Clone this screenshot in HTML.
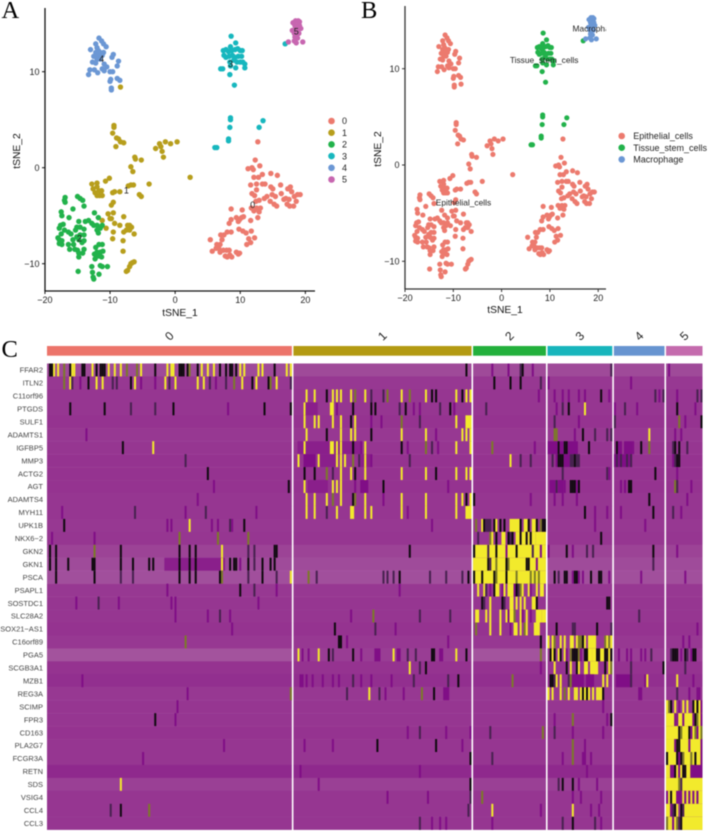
<!DOCTYPE html>
<html lang="en">
<head>
<meta charset="utf-8">
<title>tSNE clusters and marker gene heatmap</title>
<style>
html,body{margin:0;padding:0;background:#fff;}
#figure{display:block;width:708px;height:831px;filter:blur(.5px);font-family:"Liberation Sans",sans-serif;}
</style>
</head>
<body>
<svg id="figure" xmlns="http://www.w3.org/2000/svg" width="708" height="831" viewBox="0 0 708 831">
  <defs><clipPath id="clip-b"><rect x="405" y="0" width="201" height="290"/></clipPath></defs>
  <g id="panel-a"></g>
  <g id="panel-b"></g>
  <g id="panel-c"></g>
</svg>
<script>
// ---------- tSNE data (tSNE_1, tSNE_2) ----------
const cluster0 = [[5.4,-7.5],[5.7,-8.7],[6.4,-8],[6.7,-8.4],[6.9,-8.8],[6.3,-8.4],[7.4,-8.6],[7.7,-9.2],[8,-9.3],[8.4,-9.1],[8.7,-9.3],[7.9,-8.6],[8.3,-8.6],[9.4,-8.8],[9.7,-9],[9.9,-8.9],[7,-7],[7.5,-7],[7.2,-7.5],[6.9,-8],[8,-6.7],[8.6,-6.7],[8.3,-5.8],[8.6,-5.4],[8.6,-4.3],[9.4,-5.2],[9.7,-5.6],[9.9,-5.4],[10.2,-5.2],[10.3,-4.4],[10.5,-5.1],[9.8,-6.4],[10.4,-6.6],[10.9,-6.8],[11.3,-7.4],[11.7,-6.6],[11.6,-7.8],[12.2,-7.3],[11,-8],[11.6,-5.5],[12.7,-5.2],[11.7,-4.2],[12.1,-4.5],[12.5,-4.2],[12.9,-4.6],[13.1,-4.2],[12.4,-3.5],[12.9,-3.4],[13.7,-3.2],[14.1,-3],[14.6,-3.5],[14.9,-2.8],[15.2,-3.8],[15.6,-4],[15.4,-3],[16.3,-2.7],[16.7,-3.3],[17,-3.2],[17.2,-3.8],[17.5,-3.3],[17.6,-4],[18.2,-4],[18.6,-3.5],[18.3,-3],[18.8,-2.8],[19.2,-2.8],[17.9,-2.5],[17.3,-2.2],[17.7,-2],[16.2,-1.8],[15,-2.2],[14.7,-2],[13.8,-1.7],[13.4,-1.7],[12.5,-1.7],[11.6,-1.8],[11.8,-2.7],[12.2,-2.9],[12.5,-2.3],[12.1,-1],[12.8,-1],[11.2,-0.1],[11.8,0],[12,-0.2],[12.3,0.8],[13,0.2],[13.4,-0.7],[14.7,-0.6],[15.7,-0.8],[12.7,2.7]];
const cluster1 = [[-8.4,8.4],[-9.4,4.4],[-9.4,4.2],[-9.6,3.6],[-9,3.1],[-8.7,3],[-8.4,2.7],[-7.9,2.6],[-9.1,2.2],[-3,2],[-2.4,2.5],[-2.2,2.2],[-1.8,1.1],[-1.5,2.7],[-0.7,2.5],[0.3,2.7],[-2,1.7],[-6.2,1.1],[-6.1,0.9],[-5.2,0.8],[-6.8,0.1],[-6.5,-0.4],[2.3,-1],[-4,-1.7],[-10.1,-1.1],[-10.7,-1.4],[-12.8,-1.7],[-12,-1.6],[-12.6,-2.2],[-12,-2],[-11.7,-2.4],[-11.3,-2.4],[-12.3,-2.6],[-11.6,-2.9],[-11.2,-2.9],[-12,-2.9],[-9.6,-2.6],[-9.3,-2.5],[-8.5,-2.5],[-7.2,-1.9],[-6.8,-1.8],[-6.4,-1.8],[-5.5,-2.8],[-5.2,-3],[-9.5,-3.6],[-9.8,-3.9],[-10.3,-4.8],[-9.5,-4.7],[-9.8,-5.3],[-10,-5.3],[-7.9,-5.1],[-11.2,-5.5],[-10.6,-6.3],[-9.3,-5.8],[-8.5,-6],[-7.3,-6],[-7,-6],[-6.7,-6.2],[-7.5,-6.5],[-7.9,-6.7],[-9.5,-6.7],[-7,-6.5],[-6.3,-6.9],[-9.6,-7.4],[-8,-7.6],[-8,-8.7],[-6.3,-9.8],[-6.6,-9.9],[-6.8,-10],[-7,-10.3],[-7.3,-10.7],[-7.5,-10.8]];
const cluster2 = [[-16.9,-3.1],[-17,-3.4],[-16.9,-3.6],[-15,-3],[-14.6,-3.2],[-14.2,-3.4],[-15.7,-4.3],[-14,-4],[-17.5,-4.6],[-17.4,-5],[-16.3,-5.2],[-12.4,-4.7],[-11.8,-5.2],[-14.8,-5.6],[-13.8,-5.6],[-13.3,-5.5],[-12.8,-5.8],[-12.5,-6],[-12,-6],[-11.2,-6],[-11.5,-6.3],[-12,-6.5],[-11.8,-6.8],[-17.6,-6],[-17.8,-6.3],[-17.2,-5.9],[-17,-6.5],[-16.4,-6.7],[-16,-6.9],[-15.3,-6.5],[-15.1,-6.2],[-14.6,-6.2],[-14,-6.4],[-15.7,-7.5],[-17.5,-6.9],[-17.8,-7.5],[-18,-7.3],[-17.4,-7.6],[-17.8,-7.9],[-17.4,-8],[-16.4,-8],[-16.2,-8.5],[-15.6,-8],[-15.4,-8.5],[-15,-8.6],[-14.8,-8.9],[-14.8,-9.3],[-14,-8.5],[-14.2,-8.9],[-14.6,-7],[-14,-7],[-14,-7.6],[-14.8,-7.5],[-15.1,-7.2],[-14.3,-7.8],[-12.2,-8.3],[-11.7,-8],[-11.2,-8],[-11.1,-8.7],[-11.5,-8.8],[-12,-8.8],[-12.4,-9],[-11.8,-9.2],[-11.3,-9.3],[-12.3,-9.5],[-12.8,-10.3],[-11.5,-10.2],[-11.2,-10.3],[-10.4,-10.3],[-14.9,-10.8],[-12.7,-10.9],[-12.6,-11.4],[-11.7,-11.1],[-12.5,-11.6]];
const cluster3 = [[8.6,13.7],[9.3,13],[8.5,12.6],[7.4,12.2],[7.8,12.3],[8.2,12.1],[8.7,12.2],[9.2,12.3],[9.6,12.4],[10,12.2],[10.3,12.2],[7.5,11.7],[7.8,11.5],[8.3,11.6],[8.8,11.7],[9.2,11.5],[9.7,11.6],[10.2,11.6],[9,11.2],[8.4,11],[9.5,11],[10,11],[10.4,11],[10.7,10.8],[8.5,10.6],[9.3,10.4],[10.7,10.4],[7,10.3],[7.3,10.3],[8.4,9.7],[9.1,8.6],[8.5,5.2],[8.5,5],[8.4,4.2],[8.2,3],[8.2,2.8],[6.1,2.1],[6.4,2.1],[12.9,4.2],[13.5,4.9],[16.9,12.9]];
const cluster4 = [[-11.7,13.5],[-11.3,13.2],[-12.2,12.9],[-11,12.9],[-10.6,12.6],[-12,12.5],[-13,12.3],[-12.2,12],[-11.8,12.2],[-11.5,12],[-11,12],[-12,11.7],[-11.6,11.7],[-11.2,11.7],[-12.5,11.6],[-12,11.3],[-11.5,11.3],[-9.5,11.8],[-9.7,11.5],[-8.7,11.1],[-8.9,10.6],[-12.7,11],[-12.2,10.9],[-10.9,10.8],[-10.5,10.5],[-11.2,10.3],[-12.4,10.2],[-13.1,10.2],[-11.9,9.9],[-10.9,10.1],[-10,10],[-9.6,10],[-13.3,9.7],[-9.9,9.2],[-10,9],[-8.9,9.3],[-8.5,9.1],[-9.8,8.3],[-9.8,8.1]];
const cluster5 = [[18.1,15.1],[18.5,15.3],[18.9,15.3],[19.1,15.2],[18.4,14.8],[18.8,14.8],[19.1,14.8],[18,14.3],[18.4,14.4],[18.8,14.4],[19.3,14.5],[18.3,14],[18.7,14],[19,14],[18.4,13.6],[18.8,13.5],[18.3,13.2],[18.6,13],[17.4,13.1],[19.6,13.1]];
const clusterNames = ["0","1","2","3","4","5"];
const clusterLabelSpots = [[11.9,-3.9],[-7.5,-2.4],[-14.7,-7.4],[8.5,10.8],[-11.3,11.3],[18.6,14.2]];
const cellTypeNames = ["Epithelial_cells","Tissue_stem_cells","Macrophage"];
const cellTypeOfCluster = [0,0,0,1,0,2];
const cellTypeLabelSpots = [[-7.9,-3.9],[8.8,10.9],[19.5,14.2]];
const tsne1Ticks = [-20,-10,0,10,20];
const tsne2Ticks = [-10,0,10];

// ---------- heatmap data ----------
const genes = ["FFAR2","ITLN2","C11orf96","PTGDS","SULF1","ADAMTS1","IGFBP5","MMP3","ACTG2","AGT","ADAMTS4","MYH11","UPK1B","NKX6\u22122","GKN2","GKN1","PSCA","PSAPL1","SOSTDC1","SLC28A2","SOX21\u2212AS1","C16orf89","PGA5","SCGB3A1","MZB1","REG3A","SCIMP","FPR3","CD163","PLA2G7","FCGR3A","RETN","SDS","VSIG4","CCL4","CCL3"];
const geneBaseline = [-.84,-.62,-.6,-.6,-.58,-.62,-.6,-.58,-.58,-.58,-.6,-.6,-.62,-.6,-.75,-.85,-.9,-.62,-.6,-.6,-.58,-.62,-.95,-.58,-.55,-.62,-.6,-.6,-.58,-.6,-.6,-.5,-.72,-.6,-.6,-.6];
const groupSizes = [121,88,36,32,25,18];
// expression levels: yellow high, olive mid, black zero, dark / deep purple low
const Y=1, O=.5, K=0, D=-.1, P=-.3, M=-.43;
// each entry: [cell index within group, scaled expression, optional run length]
const group0Cells = {
 "FFAR2":[[1,K],[2,K],[3,Y],[5,Y],[8,O],[11,K],[12,Y],[13,Y],[17,K],[18,K],[22,Y],[24,K],[26,K],[27,K],[28,K],[30,Y],[33,Y],[36,Y],[39,O],[44,O],[46,Y],[53,K],[59,Y],[61,Y],[62,Y],[65,K],[66,K],[67,K],[69,K],[70,O],[74,K],[76,Y],[79,Y],[82,Y],[85,K],[88,K],[90,K],[91,K],[93,K],[95,Y],[97,Y],[104,Y],[106,Y],[112,K],[118,Y],[120,Y]],
 "ITLN2":[[8,O],[11,Y],[12,D],[16,P],[20,K],[24,Y],[27,Y],[32,D],[34,D],[41,K],[43,Y],[46,P],[53,P],[58,Y],[60,D],[63,Y],[74,Y],[77,Y],[80,D],[83,P],[88,D],[92,O],[96,Y],[101,K],[103,Y],[109,K],[110,O],[113,Y],[120,D]],
 "PTGDS":[[11,K],[28,K],[41,D],[53,D],[62,K],[89,P],[107,K],[120,K]],
 "ADAMTS1":[[19,P]],
 "IGFBP5":[[37,K],[52,Y]],
 "MMP3":[[68,D]],
 "ACTG2":[[79,K]],
 "AGT":[[82,P],[119,K]],
 "ADAMTS4":[[74,P]],
 "MYH11":[[7,P],[43,D],[68,P],[78,D],[103,P]],
 "UPK1B":[[8,K],[59,P],[61,P],[70,Y],[81,P],[84,P],[90,D],[91,P],[97,K]],
 "NKX6\u22122":[[2,P],[23,P],[65,O],[84,O],[99,O]],
 "GKN2":[[1,K],[4,K],[23,O],[36,K],[65,K],[70,K],[73,K],[86,Y],[99,D],[102,D],[112,K],[113,K]],
 "GKN1":[[58,M,30],[1,K],[4,K],[10,K],[22,K],[23,K],[36,K],[42,K],[50,K],[52,K],[65,K],[70,K],[73,K],[86,Y],[90,K],[92,K],[93,K],[95,P],[99,K],[102,D],[106,K],[110,K],[112,K]],
 "PSCA":[[4,K],[23,K],[36,D],[42,D],[65,K],[70,K],[73,K],[85,K],[86,O],[99,D],[106,K],[113,D],[120,Y]],
 "PSAPL1":[[59,P],[95,K],[102,D],[113,P]],
 "SOSTDC1":[[14,P],[25,D],[35,P],[61,P],[63,P],[104,P]],
 "SLC28A2":[[63,P],[79,P],[85,D],[90,P]],
 "SOX21\u2212AS1":[[91,P]],
 "C16orf89":[[68,O]],
 "MZB1":[[17,P]],
 "REG3A":[[69,P],[120,O]],
 "SCIMP":[[64,P]],
 "FPR3":[[53,K],[63,P]],
 "PLA2G7":[[87,P]],
 "FCGR3A":[[47,P]],
 "SDS":[[36,Y]],
 "CCL4":[[31,D],[36,K],[50,O]]
};
const group1Cells = {
 "FFAR2":[[85,K]],
 "C11orf96":[[6,Y],[10,Y],[16,K],[19,Y],[21,Y],[23,Y],[28,Y],[30,O],[35,Y],[38,D],[44,D],[46,O],[53,Y],[57,O],[65,Y],[68,K],[70,K],[80,Y],[83,K],[85,Y],[87,Y]],
 "PTGDS":[[5,Y],[6,M,6],[18,Y,2],[21,P],[29,K],[38,K],[40,K],[52,D],[55,K],[59,P],[62,P],[72,D],[77,K],[79,P]],
 "SULF1":[[5,Y],[10,Y],[12,Y],[19,Y],[23,Y],[28,K],[30,Y],[38,P],[43,P],[53,O],[62,D],[80,Y],[85,Y,2],[87,Y]],
 "ADAMTS1":[[6,Y],[16,K],[23,Y],[28,Y],[30,Y],[38,K],[53,Y],[65,Y],[70,P],[83,Y],[85,Y],[87,Y]],
 "IGFBP5":[[2,M,32],[5,Y],[18,Y,2],[21,Y],[23,Y],[29,K],[33,P],[35,Y],[53,K],[56,P],[65,O],[68,D],[71,P],[80,Y],[87,Y]],
 "MMP3":[[2,Y],[5,P,6],[12,Y],[13,M,8],[21,Y],[23,Y],[25,Y],[29,O],[32,D],[33,M,5],[35,Y],[38,P],[57,D]],
 "ACTG2":[[5,K],[10,K],[16,O],[19,D],[23,Y],[28,Y],[30,K],[35,Y],[53,Y],[65,Y],[70,K],[80,Y],[85,Y],[87,Y]],
 "AGT":[[5,Y],[7,M,10],[19,Y],[21,Y],[23,Y],[30,P],[33,P,4],[44,K],[76,P]],
 "ADAMTS4":[[6,Y],[10,Y],[16,Y],[19,O],[23,Y],[29,K],[30,O],[35,Y],[44,P],[53,Y],[65,Y],[80,Y],[83,Y],[85,K],[87,Y]],
 "MYH11":[[6,Y],[10,Y],[16,D],[21,Y],[28,Y,2],[35,Y],[38,Y],[53,Y],[56,P],[65,Y],[80,Y],[85,Y,2],[87,Y]],
 "UPK1B":[[68,P]],
 "GKN2":[[57,K]],
 "PSCA":[[7,O],[11,D],[44,D],[46,D],[49,D],[52,K],[67,D],[75,D],[83,D],[86,K]],
 "PSAPL1":[[52,P]],
 "SLC28A2":[[28,P],[39,O],[62,D],[77,D]],
 "SOX21\u2212AS1":[[20,K],[40,D],[50,P]],
 "C16orf89":[[22,K],[23,K],[26,P],[76,P]],
 "PGA5":[[0,-.68,88],[2,Y],[4,P],[7,P],[12,Y],[17,K],[19,D],[29,K],[33,P],[40,P,3],[49,Y],[51,P,2],[56,D],[60,D],[68,K],[69,K],[72,P,2],[80,Y],[85,K]],
 "SCGB3A1":[[57,Y],[62,D],[65,K]],
 "MZB1":[[3,P,2],[6,P],[9,P],[14,P],[19,P],[22,P],[29,D],[33,P],[38,P],[48,P],[59,D],[76,D],[81,K]],
 "REG3A":[[26,D],[37,Y],[42,D],[45,P],[54,P],[63,O],[69,K],[74,P,3]],
 "CD163":[[56,P],[62,D],[75,P],[87,P]],
 "PLA2G7":[[5,P],[19,P],[41,K],[70,K],[83,P]],
 "FCGR3A":[[87,K]],
 "RETN":[[3,P],[62,P]],
 "SDS":[[12,P],[87,K]],
 "VSIG4":[[46,P],[66,P],[87,D]],
 "CCL4":[[86,D]],
 "CCL3":[[62,D],[68,P],[72,P],[75,P]]
};
const group2Cells = {
 "FFAR2":[[9,P],[17,P],[23,D],[24,K],[29,P]],
 "ITLN2":[[10,K],[18,K],[23,K],[33,D]],
 "C11orf96":[[32,P]],
 "PTGDS":[[6,D]],
 "IGFBP5":[[9,O],[30,P]],
 "MMP3":[[18,Y],[23,D],[28,D]],
 "ADAMTS4":[[0,K],[28,P]],
 "UPK1B":[[1,O],[4,Y],[5,K],[6,D,3],[10,K],[11,Y],[13,K],[15,K],[18,Y,5],[23,K],[25,Y,2],[27,K],[29,Y,2],[31,K],[33,O],[34,K],[35,K]],
 "NKX6\u22122":[[2,D],[8,O],[9,Y],[11,K],[14,Y,2],[17,K],[18,D],[19,K],[21,Y,2],[23,K],[24,Y,2],[26,K],[27,Y],[28,K],[29,Y,2],[31,Y,5]],
 "GKN2":[[1,Y,35],[0,K],[7,D],[11,K],[16,P],[21,K],[29,D],[33,P]],
 "GKN1":[[0,Y,36],[7,K],[8,D],[11,O],[16,K],[17,O],[26,K],[27,K],[31,P]],
 "PSCA":[[0,Y,36],[0,K],[4,K],[10,K],[11,O],[16,K],[21,O],[28,O],[30,O],[32,O]],
 "PSAPL1":[[2,Y],[5,Y],[6,D],[8,P],[10,K],[11,Y,2],[14,P],[15,Y],[17,Y,3],[20,P],[21,K],[22,D],[23,O],[24,Y],[27,Y],[28,P],[31,Y],[33,Y,2]],
 "SOSTDC1":[[4,K],[5,D],[8,Y],[14,K],[15,D],[18,Y,2],[21,Y],[23,Y],[25,Y],[29,Y,2],[31,K]],
 "SLC28A2":[[1,Y,2],[6,Y],[8,Y],[13,Y],[16,Y],[17,P],[18,Y,2],[20,O],[23,Y],[24,P],[26,Y],[28,P],[31,Y,3],[34,Y,2]],
 "SOX21\u2212AS1":[[1,O],[8,Y],[13,Y],[18,P],[20,Y,2],[23,Y],[25,O],[26,Y],[30,Y,3]],
 "C16orf89":[[33,K]],
 "PGA5":[[33,O]],
 "SCGB3A1":[[33,P]],
 "MZB1":[[19,O]],
 "CD163":[[8,D],[34,O]],
 "FCGR3A":[[9,D]],
 "VSIG4":[[4,O]],
 "CCL4":[[9,Y],[33,P]],
 "CCL3":[[9,P]]
};
const group3Cells = {
 "FFAR2":[[31,D]],
 "ITLN2":[[0,P]],
 "C11orf96":[[3,P],[7,P],[10,P],[15,P],[18,P],[26,K],[30,P]],
 "PTGDS":[[4,P],[7,D],[10,K],[18,Y]],
 "SULF1":[[3,D],[15,P]],
 "ADAMTS1":[[3,O],[4,O],[13,P],[17,K],[23,D],[29,D],[31,D]],
 "IGFBP5":[[0,P,5],[5,K],[6,P,2],[8,K],[9,K],[10,P,5],[20,K]],
 "MMP3":[[2,D],[4,P],[5,K],[6,K],[7,K],[8,P,3],[11,D,2],[13,K],[14,D,2]],
 "ACTG2":[[7,D],[29,D],[30,P]],
 "AGT":[[1,P,3],[4,D],[5,P,3],[8,P],[11,K],[12,K],[13,K],[14,P],[15,K]],
 "ADAMTS4":[[3,P],[7,P],[14,P]],
 "MYH11":[[18,K],[23,P],[29,P]],
 "UPK1B":[[23,P]],
 "NKX6\u22122":[[26,K]],
 "GKN2":[[0,P],[9,K],[12,P],[19,D],[22,D]],
 "PSCA":[[3,K],[5,D],[8,K],[9,K],[12,P],[13,K],[14,K],[15,P],[17,P],[21,K],[25,K],[26,K],[30,P]],
 "SOSTDC1":[[29,K],[30,K]],
 "SOX21\u2212AS1":[[4,K],[12,D],[13,D],[24,K],[31,D]],
 "C16orf89":[[0,Y],[2,Y],[3,O],[6,Y],[8,Y],[11,Y,2],[14,Y],[15,O,2],[17,K],[18,Y],[20,Y,4],[28,O],[29,Y],[30,O],[31,Y]],
 "PGA5":[[0,-.7,32],[1,K],[2,Y],[3,K],[5,Y],[6,K],[8,Y],[9,P],[11,O],[12,K],[13,K],[14,K],[15,O],[16,P],[18,K],[19,K],[20,Y,2],[22,Y,2],[24,K],[25,K],[26,Y,2],[28,K],[29,K],[30,Y],[31,K]],
 "SCGB3A1":[[3,Y],[9,K],[11,Y],[14,K],[15,Y],[18,Y,2],[21,Y,4],[28,K],[30,Y],[31,O]],
 "MZB1":[[1,K],[2,K],[3,D],[4,Y],[6,Y],[10,D],[11,O],[12,P,4],[16,P],[17,P],[19,P,4],[27,Y],[29,Y]],
 "REG3A":[[0,Y],[2,Y],[6,Y],[8,O],[10,Y],[13,Y],[14,Y],[16,Y],[17,K],[18,Y],[19,K],[20,Y],[22,Y],[24,Y],[25,Y],[26,Y],[27,K]],
 "SCIMP":[[27,P]],
 "FPR3":[[3,P],[12,O],[29,P],[31,K]],
 "CD163":[[3,D],[12,P],[27,P]],
 "PLA2G7":[[12,O],[18,P]],
 "FCGR3A":[[7,P],[12,O],[17,P],[18,P],[21,P]],
 "RETN":[[19,P]],
 "SDS":[[5,D],[7,K],[12,K],[15,P],[24,P]],
 "VSIG4":[[12,P],[16,P],[26,P]],
 "CCL4":[[12,Y],[21,P],[25,P]],
 "CCL3":[[7,D],[12,K],[23,D],[26,P]]
};
const group4Cells = {
 "ITLN2":[[8,P]],
 "C11orf96":[[20,D],[22,P],[24,D]],
 "PTGDS":[[0,P],[5,D],[11,P]],
 "SULF1":[[0,D]],
 "ADAMTS1":[[17,Y]],
 "IGFBP5":[[1,K],[2,P,2],[5,P,4],[9,P],[13,K],[17,O]],
 "MMP3":[[0,P,9],[1,D],[3,D],[6,D],[8,D]],
 "ACTG2":[[20,K]],
 "AGT":[[3,P],[5,P],[7,K],[8,K]],
 "ADAMTS4":[[17,K]],
 "MYH11":[[3,P],[19,K]],
 "UPK1B":[[15,P]],
 "GKN2":[[19,K]],
 "GKN1":[[19,D]],
 "PSCA":[[13,P]],
 "SLC28A2":[[12,D]],
 "PGA5":[[0,-.7,25],[2,P],[6,P],[8,P],[13,P],[15,P],[18,D]],
 "SCGB3A1":[[8,D],[24,K]],
 "MZB1":[[1,P,8],[8,D],[15,P],[16,Y]],
 "REG3A":[[12,P,2]]
};
const group5Cells = {
 "FFAR2":[[1,P]],
 "C11orf96":[[5,P],[15,D],[17,D]],
 "PTGDS":[[5,K],[14,P]],
 "SULF1":[[6,O],[9,P],[17,K]],
 "ADAMTS1":[[4,P],[7,P]],
 "IGFBP5":[[3,D],[4,K],[6,K],[10,D]],
 "MMP3":[[3,P],[4,D],[5,K],[6,K]],
 "ACTG2":[[5,P]],
 "AGT":[[4,O],[5,D],[12,P]],
 "ADAMTS4":[[10,P]],
 "MYH11":[[3,D],[7,P]],
 "GKN2":[[5,P]],
 "PSCA":[[9,P]],
 "SOX21\u2212AS1":[[15,P]],
 "C16orf89":[[8,P],[11,P]],
 "PGA5":[[0,-.7,18],[2,D],[3,K],[4,K],[5,K],[7,P],[9,K],[10,D],[12,P],[13,K],[14,K]],
 "SCGB3A1":[[9,D]],
 "MZB1":[[5,Y],[13,P]],
 "REG3A":[[5,D],[11,P],[15,P,2]],
 "SCIMP":[[0,Y],[1,O],[2,K],[4,Y],[6,P],[8,Y],[10,Y],[13,K],[14,Y],[15,K],[16,Y],[17,P]],
 "FPR3":[[0,Y,18],[4,P],[5,P],[8,P],[13,P],[14,K],[15,O],[17,P]],
 "CD163":[[0,Y,18],[6,K],[7,O],[11,K],[12,P],[14,O],[15,P],[17,O]],
 "PLA2G7":[[0,Y,18],[4,P],[5,K],[6,K],[11,P],[17,P]],
 "FCGR3A":[[0,K],[1,Y,4],[5,K],[6,P],[7,K],[8,O],[9,Y,3],[12,O],[13,Y],[14,K],[15,Y,2],[17,P]],
 "RETN":[[0,Y],[1,Y],[2,P],[3,P],[4,K],[5,Y],[6,P],[7,Y],[8,K],[9,K],[10,Y,2],[12,P],[13,P,5]],
 "SDS":[[0,Y,18],[6,O],[7,D]],
 "VSIG4":[[0,P],[1,Y],[2,K],[3,Y,2],[5,P,3],[8,Y],[9,P],[10,Y],[11,P],[12,Y],[13,P],[14,Y],[15,P],[16,Y,2]],
 "CCL4":[[0,Y,2],[2,P],[3,D],[4,K],[5,Y],[7,K],[8,D],[9,Y,9]],
 "CCL3":[[0,O],[1,Y],[2,Y],[3,P],[4,Y],[5,O],[6,D],[7,K],[8,Y,10]]
};

// ---------- styling and layout (not data) ----------
const clusterColors = ["#EC7A6E","#B79E1C","#22B24B","#17B7BE","#6B97D4","#C766B0"];
const barColors = ["#EC746A","#B39A12","#23B03C","#17B5BC","#6794D0","#C46BAD"];
const typeColors = ["#EC7A6E","#22B24B","#6B97D4"];
const NS = "http://www.w3.org/2000/svg";
function make(tag, attrs, parent, text) {
  const el = document.createElementNS(NS, tag);
  for (const k in attrs) el.setAttribute(k, attrs[k]);
  if (text !== undefined) el.textContent = text;
  parent.appendChild(el);
  return el;
}
const allClusters = [cluster0, cluster1, cluster2, cluster3, cluster4, cluster5];

function drawAxes(parent, sx, sy, box, color, width, xTitleX, xTitleY, yTitleX, yTitleY) {
  const yAxis = make("line", {x1:box.left, x2:box.left, y1:box.top, y2:box.bottom, stroke:color, "stroke-width":width}, parent);
  
  
  const xAxis = make("line", {x1:box.left-.6, x2:box.right, y1:box.bottom, y2:box.bottom, stroke:color, "stroke-width":width}, parent);
  
  
  tsne1Ticks.forEach(function (t) {
    const tick = make("line", {x1:sx(t), x2:sx(t), y1:box.bottom, y2:box.bottom+3, stroke:color, "stroke-width":1}, parent);
    
    
    const lab = make("text", {x:sx(t), y:box.bottom+12, "text-anchor":"middle", "font-size":9, fill:"#222"}, parent, String(t).replace("-", "\u2212"));
    
    
  });
  tsne2Ticks.forEach(function (t) {
    const tick = make("line", {x1:box.left-3, x2:box.left, y1:sy(t), y2:sy(t), stroke:color, "stroke-width":1}, parent);
    
    
    const lab = make("text", {x:box.left-5.5, y:sy(t)+3.2, "text-anchor":"end", "font-size":9, fill:"#222"}, parent, String(t).replace("-", "\u2212"));
    
    
  });
  const xt = make("text", {x:xTitleX, y:xTitleY, "text-anchor":"middle", "font-size":10.3, fill:"#111"}, parent, "tSNE_1");
  
  
  const yt = make("text", {x:0, y:0, "text-anchor":"middle", "font-size":10.3, fill:"#111", transform:"translate("+yTitleX+","+yTitleY+") rotate(-90)"}, parent, "tSNE_2");
  
  
}

// Panel A
(function () {
  const g = document.getElementById("panel-a");
  const sx = function (v) { return 175.15 + v * 6.51; };
  const sy = function (v) { return 167.7 - v * 9.6; };
  const letter = make("text", {x:1.5, y:18, "font-size":24.5, "font-family":'"Liberation Serif",serif', fill:"#000"}, g, "A");
  
  
  drawAxes(g, sx, sy, {left:45, right:315, top:8, bottom:291}, "#111", 1.3, 180, 316, 20, 151);
  allClusters.forEach(function (pts, c) {
    pts.forEach(function (p) {
      const dot = make("circle", {cx:sx(p[0]), cy:sy(p[1]), r:2.7, fill:clusterColors[c]}, g);
      
      
    });
  });
  clusterLabelSpots.forEach(function (p, c) {
    const t = make("text", {x:sx(p[0]), y:sy(p[1])+3, "text-anchor":"middle", "font-size":9, fill:"#222"}, g, clusterNames[c]);
    
    
  });
  clusterNames.forEach(function (n, i) {
    const y = 121 + i * 11.7;
    const key = make("circle", {cx:331.5, cy:y, r:3.3, fill:clusterColors[i]}, g);
    
    
    const lab = make("text", {x:342, y:y+3.2, "font-size":9, fill:"#222"}, g, n);
    
    
  });
})();

// Panel B
(function () {
  const g = document.getElementById("panel-b");
  const sx = function (v) { return 501.6 + v * 4.83; };
  const sy = function (v) { return 165 - v * 9.63; };
  const letter = make("text", {x:361, y:18, "font-size":24.5, "font-family":'"Liberation Serif",serif', fill:"#000"}, g, "B");
  
  
  drawAxes(g, sx, sy, {left:405, right:606, top:6, bottom:289}, "#333", 1.3, 505, 313, 381, 149);
  allClusters.forEach(function (pts, c) {
    pts.forEach(function (p) {
      const dot = make("circle", {cx:sx(p[0]), cy:sy(p[1]), r:2.6, fill:typeColors[cellTypeOfCluster[c]]}, g);
      
      
    });
  });
  const clip = make("g", {"clip-path":"url(#clip-b)"}, g);
  cellTypeLabelSpots.forEach(function (p, i) {
    const t = make("text", {x:sx(p[0]), y:sy(p[1])+3, "text-anchor":"middle", "font-size":8.4, fill:"#222"}, clip, cellTypeNames[i]);
    
    
  });
  cellTypeNames.forEach(function (n, i) {
    const y = 136 + i * 11.7;
    const key = make("circle", {cx:621.7, cy:y, r:3.3, fill:typeColors[i]}, g);
    
    
    const lab = make("text", {x:633.3, y:y+3.2, "font-size":9, fill:"#222"}, g, n);
    
    
  });
})();

// Panel C
function stopsColor(v) {
  const stops = [[-1.2,[172,104,166]],[-.6,[150,54,145]],[-.3,[128,14,134]],[-.1,[72,34,80]],[0,[16,10,16]],[.5,[124,122,40]],[1,[242,234,44]]];
  if (v <= stops[0][0]) v = stops[0][0];
  if (v >= 1) v = 1;
  for (let i = 1; i < stops.length; i++) {
    if (v <= stops[i][0]) {
      const a = stops[i-1], b = stops[i], t = (v - a[0]) / (b[0] - a[0]);
      return "rgb(" + [0,1,2].map(function (k) { return Math.round(a[1][k] + (b[1][k] - a[1][k]) * t); }).join(",") + ")";
    }
  }
  return "rgb(242,234,44)";
}
(function () {
  const g = document.getElementById("panel-c");
  const left = 47, gap = 1.6, right = 702.5, top = 363.5, rowH = 12.95;
  const total = groupSizes.reduce(function (a, b) { return a + b; }, 0);
  const cw = (right - left - gap * (groupSizes.length - 1)) / total;
  const groupCells = [group0Cells, group1Cells, group2Cells, group3Cells, group4Cells, group5Cells];
  const letter = make("text", {x:1.5, y:357, "font-size":24.5, "font-family":'"Liberation Serif",serif', fill:"#000"}, g, "C");
  
  

  let x0 = left;
  groupSizes.forEach(function (size, gi) {
    const w = size * cw;
    const bar = make("rect", {x:x0, y:346, width:w, height:9.7, fill:barColors[gi]}, g);
    
    
    const cx = x0 + w / 2;
    const lab = make("text", {x:0, y:0, "text-anchor":"middle", "font-size":12, fill:"#222", transform:"translate("+cx+",336) rotate(-45) translate(0,4)"}, g, clusterNames[gi]);
    
    

    genes.forEach(function (gene, r) {
      const y = top + r * rowH;
      const base = make("rect", {x:x0, y:y, width:w, height:rowH + .2, fill:stopsColor(geneBaseline[r])}, g);
      
      
      (groupCells[gi][gene] || []).forEach(function (m) {
        const span = m[2] || 1;
        const cell = make("rect", {x:x0 + m[0] * cw, y:y, width:span * cw, height:rowH + .2, fill:stopsColor(m[1])}, g);
        
        
      });
    });
    x0 += w + gap;
  });

  genes.forEach(function (gene, r) {
    const t = make("text", {x:43, y:top + r * rowH + rowH / 2 + 2.7, "text-anchor":"end", "font-size":7.5, fill:"#444"}, g, gene);
    
    
  });
})();
</script>
</body>
</html>
